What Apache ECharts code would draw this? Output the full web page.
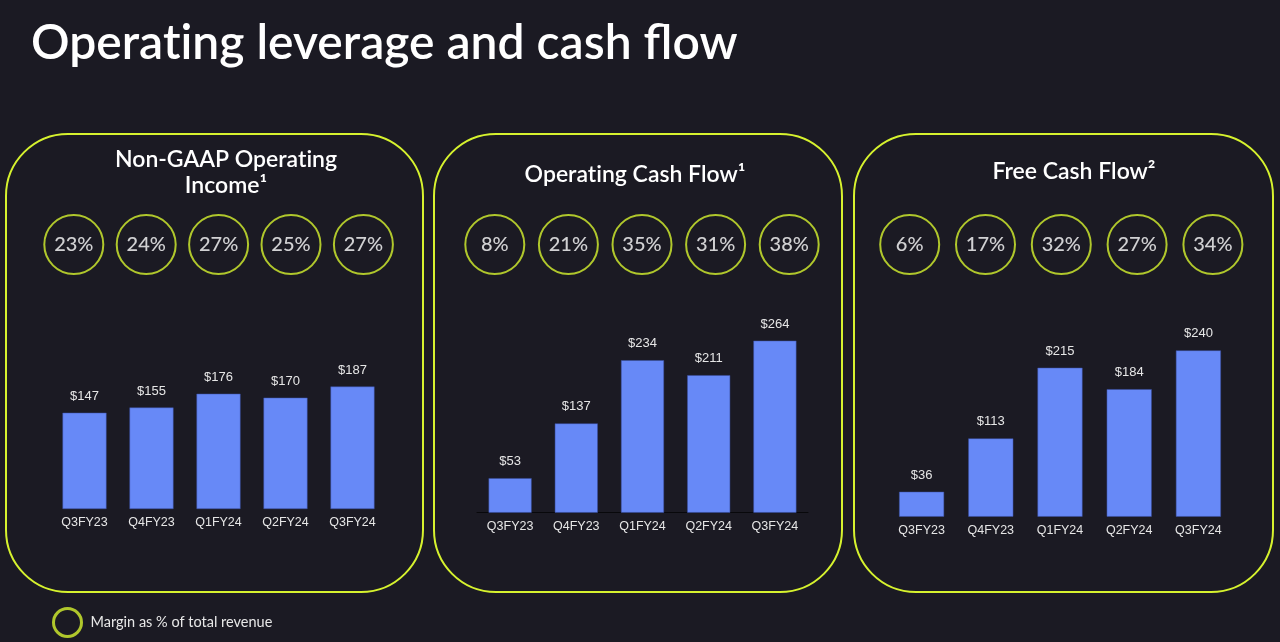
<!DOCTYPE html>
<html>
<head>
<meta charset="utf-8">
<script src="https://cdn.jsdelivr.net/npm/echarts@6/dist/echarts.min.js"></script>
<style>
html,body{margin:0;padding:0;background:#1b1a23;}
#c{width:1280px;height:642px;}
</style>
</head>
<body>
<div id="c"></div>
<script>
// ---- data ----
const categories = ['Q3FY23', 'Q4FY23', 'Q1FY24', 'Q2FY24', 'Q3FY24'];
const opIncome = [147, 155, 176, 170, 187];
const opCashFlow = [53, 137, 234, 211, 264];
const freeCashFlow = [36, 113, 215, 184, 240];
const opIncomeMargin = [23, 24, 27, 25, 27];
const opCashFlowMargin = [8, 21, 35, 31, 38];
const freeCashFlowMargin = [6, 17, 32, 27, 34];
const mainTitle = 'Operat\u200Cing leverage and cash flow';
const panelTitles = ['Non-GAAP Operat\u200Cing\nIncome\u00B9', 'Operat\u200Cing Cash Flow\u00B9', 'Free Cash Flow\u00B2'];
const legendLabel = 'Margin as % of total revenue';

// ---- style ----
const BG = '#1b1a23';
const LIME = '#d6f22e';
const BAR = '#6789f7';
const GEO = 'Lato, "Open Sans", sans-serif';
const ARIAL = '"Liberation Sans", Arial, sans-serif';

const panels = [
  { bars: opIncome, margins: opIncomeMargin, box: [6, 134, 417, 458],
    grid: { left: 51, width: 335, top: 378, height: 131 }, max: 200, barWidth: 44, axisLine: false,
    cgrid: { left: 37.6, width: 362 }, title: { x: 226, y: 173 } },
  { bars: opCashFlow, margins: opCashFlowMargin, box: [434, 134, 408, 458],
    grid: { left: 477, width: 331, top: 317.2, height: 195.5 }, max: 300, barWidth: 43, axisLine: true,
    cgrid: { left: 458, width: 368 }, title: { x: 635, y: 175 } },
  { bars: freeCashFlow, margins: freeCashFlowMargin, box: [854, 134, 419, 458],
    grid: { left: 887, width: 346, top: 308.8, height: 207.9 }, max: 300, barWidth: 45, axisLine: false,
    cgrid: { left: 871.8, width: 379 }, title: { x: 1074, y: 172 } }
];

const grid = [], xAxis = [], yAxis = [], series = [], graphic = [];

graphic.push({ type: 'text', left: 31, top: 20, style: { text: mainTitle, fill: '#ffffff', font: '600 48px ' + GEO } });

panels.forEach((p, i) => {
  graphic.push({ type: 'rect', shape: { x: p.box[0], y: p.box[1], width: p.box[2], height: p.box[3], r: 62 },
    style: { fill: 'none', stroke: LIME, lineWidth: 2 }, z: -1 });
  graphic.push({ type: 'text', x: p.title.x, y: p.title.y,
    style: { text: panelTitles[i], fill: '#ffffff', font: '600 23px ' + GEO, textAlign: 'center', textVerticalAlign: 'middle', lineHeight: 26 } });

  // bar grid
  grid.push(Object.assign({ containLabel: false }, p.grid));
  xAxis.push({ type: 'category', gridIndex: 2 * i, data: categories,
    axisLine: { show: p.axisLine, lineStyle: { color: '#08080b', width: 1 } }, axisTick: { show: false },
    axisLabel: { color: '#e6e6e6', fontFamily: ARIAL, fontSize: 12.5, margin: 7 } });
  yAxis.push({ type: 'value', gridIndex: 2 * i, min: 0, max: p.max, show: false, splitLine: { show: false } });
  series.push({ type: 'bar', xAxisIndex: 2 * i, yAxisIndex: 2 * i, data: p.bars, barWidth: p.barWidth,
    itemStyle: { color: BAR, borderColor: '#3b4fa0', borderWidth: 0.5 },
    label: { show: true, position: 'top', distance: 10, color: '#e6e6e6', fontFamily: ARIAL, fontSize: 13,
      formatter: d => '$' + d.value }, silent: true });

  // margin circles grid
  grid.push({ left: p.cgrid.left, width: p.cgrid.width, top: 214.5, height: 60 });
  xAxis.push({ type: 'category', gridIndex: 2 * i + 1, data: categories, show: false });
  yAxis.push({ type: 'value', gridIndex: 2 * i + 1, min: 0, max: 1, show: false });
  series.push({ type: 'scatter', name: legendLabel, xAxisIndex: 2 * i + 1, yAxisIndex: 2 * i + 1,
    data: p.margins.map((m, k) => [k, 0.5, m]), symbol: 'circle', symbolSize: 59,
    itemStyle: { color: 'rgba(0,0,0,0)', borderColor: LIME, borderWidth: 2 },
    label: { show: true, position: 'inside', color: '#ffffff', fontFamily: GEO, fontSize: 20, fontWeight: 500,
      formatter: d => d.value[2] + '%' }, silent: true });
});

const chart = echarts.init(document.getElementById('c'), null, { renderer: 'canvas' });
chart.setOption({
  backgroundColor: BG,
  animation: false,
  grid, xAxis, yAxis, series, graphic,
  legend: { data: [{ name: legendLabel, icon: 'circle' }], left: 52, top: 607, itemWidth: 28, itemHeight: 28,
    selectedMode: false, padding: [0, 0, 0, 0],
    itemStyle: { color: 'rgba(0,0,0,0)', borderColor: LIME, borderWidth: 3 },
    textStyle: { color: '#e8e8e8', fontFamily: GEO, fontSize: 14.5, padding: [0, 0, 0, 4] } }
});
</script>
</body>
</html>
